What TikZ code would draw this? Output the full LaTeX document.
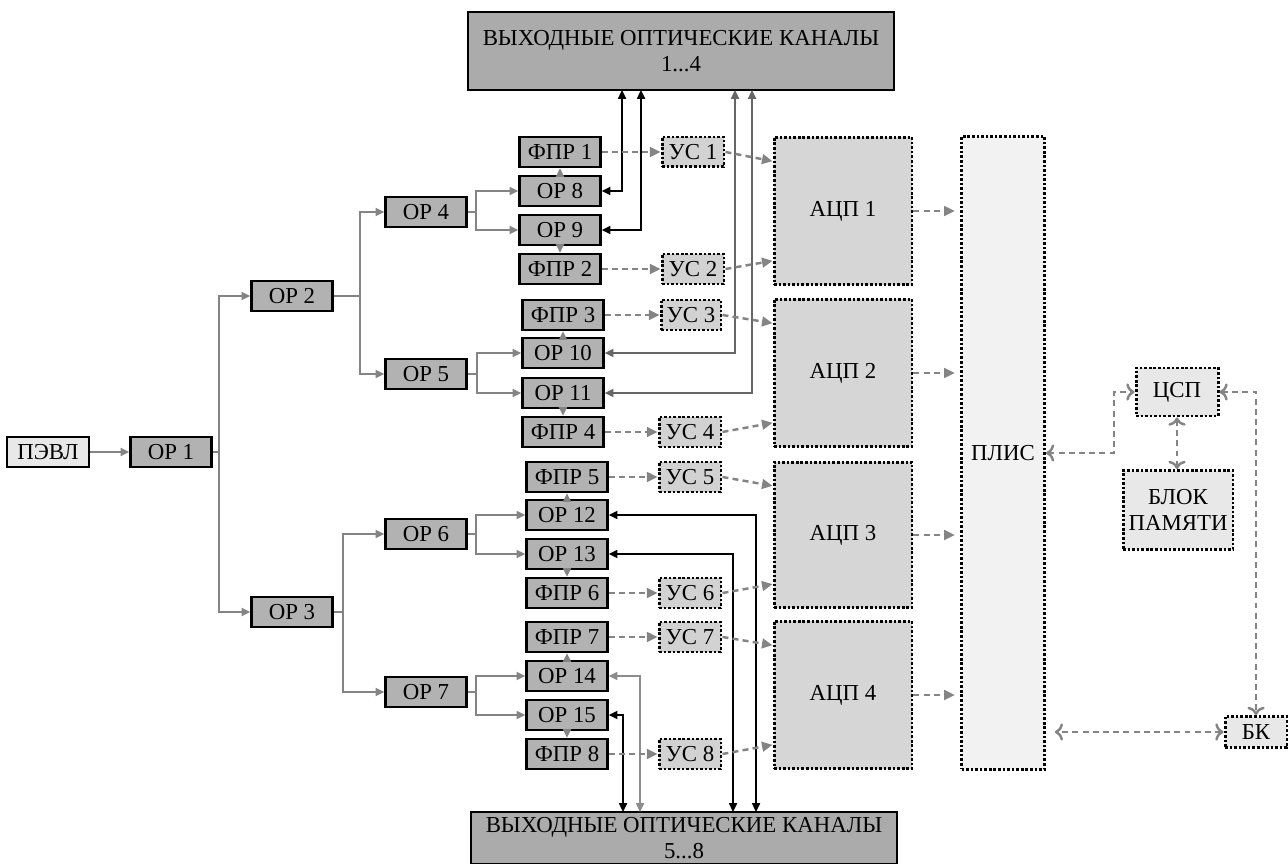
\documentclass[tikz,border=0pt]{standalone}
\usepackage{fontspec}
\setmainfont{Liberation Serif}
\usetikzlibrary{arrows.meta,calc}
\definecolor{blockgray}{HTML}{B2B2B2}
\definecolor{outgray}{HTML}{ABABAB}
\definecolor{usgray}{HTML}{D2D2D2}
\definecolor{adcgray}{HTML}{D6D6D6}
\definecolor{palegray}{HTML}{E8E8E8}
\definecolor{plisgray}{HTML}{F2F2F2}
\definecolor{linegray}{HTML}{848484}
\tikzset{block/.style={draw=black,line width=1.3pt,fill=blockgray,inner sep=0pt,
   minimum width=1.62cm,minimum height=0.6cm,align=center,
   font=\fontsize{13}{15}\selectfont},
 dotblock/.style={block,line width=1.7pt,dash pattern=on 1.5pt off 1.1pt,fill=usgray},
 adcblock/.style={dotblock,fill=adcgray,minimum width=2.76cm,minimum height=2.96cm},
 tree/.style={draw=linegray,line width=1.2pt,-{Triangle[length=5pt,width=4.5pt]}},
 sig/.style={draw=linegray,line width=1.4pt,dash pattern=on 3.4pt off 2.4pt,
   -{Triangle[length=6pt,width=5.5pt]}},
 fiber/.style={draw=black,line width=1.1pt,
   {Triangle[length=5pt,width=4.5pt]}-{Triangle[length=5pt,width=4.5pt]}},
}

\begin{document}
\begin{tikzpicture}[x=0.02cm,y=-0.02cm]
\useasboundingbox (0,0) rectangle (1288,864);
% output channels
\node[block,fill=outgray,minimum width=8.52cm,minimum height=1.56cm] (out1) at (681,51)
  {ВЫХОДНЫЕ ОПТИЧЕСКИЕ КАНАЛЫ\\1...4};
\node[block,fill=outgray,minimum width=8.52cm,minimum height=1.04cm] (out2) at (684,838)
  {ВЫХОДНЫЕ ОПТИЧЕСКИЕ КАНАЛЫ\\5...8};
% splitter tree
\node[block,fill=palegray,minimum width=1.64cm] (pevl) at (48,452) {ПЭВЛ};
\node[block] (op1) at (171,452) {ОР 1};
\node[block] (op2) at (292,296) {ОР 2};
\node[block] (op3) at (292,612) {ОР 3};
\node[block] (op4) at (426,212) {ОР 4};
\node[block] (op5) at (426,374) {ОР 5};
\node[block] (op6) at (426,534) {ОР 6};
\node[block] (op7) at (426,692) {ОР 7};
% photoreceivers and splitters
\node[block] (fpr1) at (560,152) {ФПР 1};
\node[block] (op8) at (560,191) {ОР 8};
\node[block] (op9) at (560,230) {ОР 9};
\node[block] (fpr2) at (560,269) {ФПР 2};
\node[block] (fpr3) at (563,315) {ФПР 3};
\node[block] (op10) at (563,353) {ОР 10};
\node[block] (op11) at (563,393) {ОР 11};
\node[block] (fpr4) at (563,432) {ФПР 4};
\node[block] (fpr5) at (567,477) {ФПР 5};
\node[block] (op12) at (567,515) {ОР 12};
\node[block] (op13) at (567,554) {ОР 13};
\node[block] (fpr6) at (567,593) {ФПР 6};
\node[block] (fpr7) at (567,637) {ФПР 7};
\node[block] (op14) at (567,676) {ОР 14};
\node[block] (op15) at (567,715) {ОР 15};
\node[block] (fpr8) at (567,754) {ФПР 8};
% amplifiers
\node[dotblock,minimum width=1.24cm] (us1) at (693,152) {УС 1};
\node[dotblock,minimum width=1.24cm] (us2) at (693,269) {УС 2};
\node[dotblock,minimum width=1.2cm] (us3) at (691,315) {УС 3};
\node[dotblock,minimum width=1.24cm] (us4) at (690,432) {УС 4};
\node[dotblock,minimum width=1.24cm] (us5) at (690,477) {УС 5};
\node[dotblock,minimum width=1.24cm] (us6) at (690,593) {УС 6};
\node[dotblock,minimum width=1.24cm] (us7) at (690,637) {УС 7};
\node[dotblock,minimum width=1.24cm] (us8) at (690,754) {УС 8};
% ADCs
\node[adcblock] (adc1) at (843,211) {АЦП 1};
\node[adcblock] (adc2) at (843,373) {АЦП 2};
\node[adcblock,minimum height=2.92cm] (adc3) at (843,535) {АЦП 3};
\node[adcblock] (adc4) at (843,695) {АЦП 4};
\node[dotblock,fill=plisgray,minimum width=1.66cm,minimum height=12.66cm] (plis) at (1003,453) {ПЛИС};
\node[dotblock,fill=palegray,minimum width=1.64cm,minimum height=0.96cm] (dsp) at (1177,392) {ЦСП};
\node[dotblock,fill=palegray,minimum width=2.2cm,minimum height=1.58cm] (mem) at (1178,510) {БЛОК\\ПАМЯТИ};
\node[dotblock,fill=palegray,minimum width=1.24cm,minimum height=0.62cm] (bk) at (1256,732) {БК};

% tree connectors
\draw[tree] (pevl) -- (op1);
\draw[tree] (op1.east) -- ++(6,0) |- (op2.west);
\draw[tree] (op1.east) -- ++(6,0) |- (op3.west);
\draw[tree] (op2.east) -- ++(26,0) |- (op4.west);
\draw[tree] (op2.east) -- ++(26,0) |- (op5.west);
\draw[tree] (op3.east) -- ++(9,0) |- (op6.west);
\draw[tree] (op3.east) -- ++(9,0) |- (op7.west);
\draw[tree] (op4.east) -- ++(8,0) |- (op8.west);
\draw[tree] (op4.east) -- ++(8,0) |- (op9.west);
\draw[tree] (op5.east) -- ++(9,0) |- (op10.west);
\draw[tree] (op5.east) -- ++(9,0) |- (op11.west);
\draw[tree] (op6.east) -- ++(8,0) |- (op12.west);
\draw[tree] (op6.east) -- ++(8,0) |- (op13.west);
\draw[tree] (op7.east) -- ++(8,0) |- (op14.west);
\draw[tree] (op7.east) -- ++(8,0) |- (op15.west);
\draw[tree] (op8) -- (fpr1);
\draw[tree] (op9) -- (fpr2);
\draw[tree] (op10) -- (fpr3);
\draw[tree] (op11) -- (fpr4);
\draw[tree] (op12) -- (fpr5);
\draw[tree] (op13) -- (fpr6);
\draw[tree] (op14) -- (fpr7);
\draw[tree] (op15) -- (fpr8);

% fibres to the output channels
\coordinate (up8) at (622,90);
\coordinate (up9) at (641,90);
\coordinate (up10) at (735,90);
\coordinate (up11) at (752,90);
\coordinate (dn12) at (756,812);
\coordinate (dn13) at (733,812);
\coordinate (dn14) at (640,812);
\coordinate (dn15) at (623,812);
\draw[fiber] (op8.east) -| (up8);
\draw[fiber] (op9.east) -| (up9);
\draw[fiber,draw=black!60] (op10.east) -| (up10);
\draw[fiber,draw=black!60] (op11.east) -| (up11);
\draw[fiber] (op12.east) -| (dn12);
\draw[fiber] (op13.east) -| (dn13);
\draw[fiber,draw=black!45] (op14.east) -| (dn14);
\draw[fiber] (op15.east) -| (dn15);

% signal path
\foreach \i in {1,...,8}
  \draw[sig] (fpr\i) -- (us\i);
\foreach \a/\b/\n in {us1/us2/adc1,us3/us4/adc2,us5/us6/adc3,us7/us8/adc4}{
  \draw[sig] (\a.east) -- ($(\n.north west)!0.17!(\n.south west)$);
  \draw[sig] (\b.east) -- ($(\n.north west)!0.83!(\n.south west)$);
  \draw[sig,shorten >=3pt] (\n.east) -- (\n.east -| plis.west);
}
\draw[sig,<->] (plis.east) -- ++(68,0) |- (dsp.west);
\draw[sig,<->] (dsp.south) -- (dsp.south |- mem.north);
\draw[sig,<->] (dsp.east) -| (bk.north);
\draw[sig,<->,shorten >=5pt] (bk.west) -- (bk.west -| plis.east);
\end{tikzpicture}
\end{document}
